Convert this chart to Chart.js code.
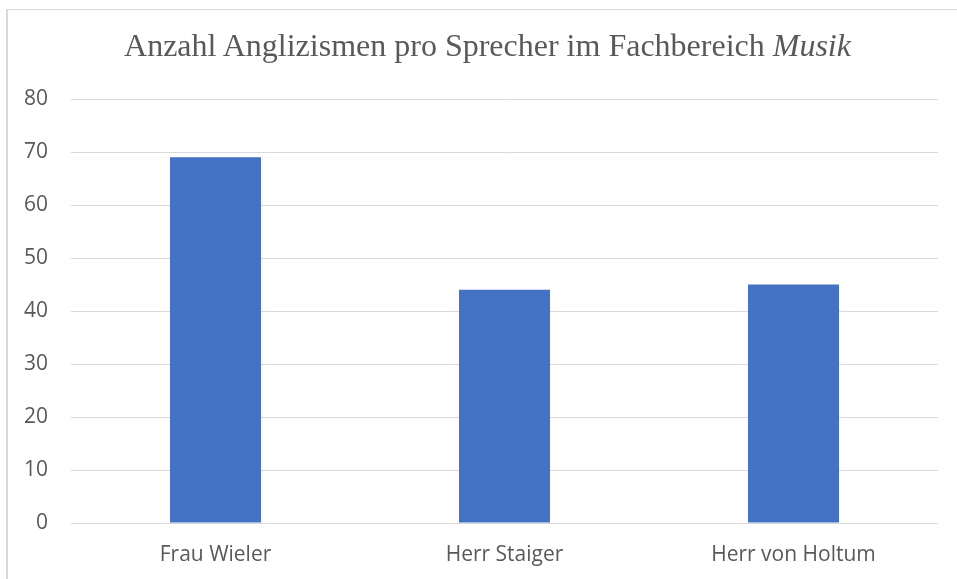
<!DOCTYPE html>
<html>
<head>
<meta charset="utf-8">
<script src="https://cdn.jsdelivr.net/npm/chart.js@4/dist/chart.umd.min.js"></script>
<style>
  html, body { margin: 0; padding: 0; background: #fff; }
  #wrap { position: relative; width: 957px; height: 579px; overflow: hidden; }
  #frame { position: absolute; left: 6px; top: 9px; width: 1000px; height: 1000px;
           border-top: 1px solid #d9d9d9; border-left: 2px solid #d9d9d9; box-sizing: border-box; }
  #title { position: absolute; left: 9px; top: 27px; width: 957px; text-align: center;
           font-family: 'Liberation Serif', 'Times New Roman', serif; font-size: 32px;
           line-height: 36px; color: #595959; white-space: nowrap; }
  canvas { position: absolute; left: 0; top: 0; }
</style>
</head>
<body>
<div id="wrap">
  <div id="frame"></div>
  <canvas id="c" width="957" height="579"></canvas>
  <div id="title">Anzahl Anglizismen pro Sprecher im Fachbereich <i>Musik</i></div>
</div>
<script>
const categories = ['Frau Wieler', 'Herr Staiger', 'Herr von Holtum'];
const values = [69, 44, 45];
const yTicks = { min: 0, max: 80, step: 10 };

new Chart(document.getElementById('c'), {
  type: 'bar',
  data: {
    labels: categories,
    datasets: [{
      data: values,
      backgroundColor: '#4472C4',
      borderWidth: 0,
      barPercentage: 0.63,
      categoryPercentage: 0.5
    }]
  },
  options: {
    responsive: false,
    animation: false,
    devicePixelRatio: 1,
    layout: { padding: { left: 0, right: 19, top: 99, bottom: 0 } },
    plugins: { legend: { display: false }, tooltip: { enabled: false }, title: { display: false } },
    scales: {
      x: {
        grid: { display: false },
        border: { display: false },
        ticks: { color: '#595959', font: { family: "'Open Sans', sans-serif", size: 21 }, padding: 11 },
        afterFit: (s) => { s.height = 56; }
      },
      y: {
        min: yTicks.min, max: yTicks.max,
        grid: { color: '#d9d9d9', lineWidth: 1, drawTicks: false },
        border: { display: false },
        ticks: { stepSize: yTicks.step, color: '#595959', font: { family: "'Open Sans', sans-serif", size: 21 }, padding: 23 },
        afterFit: (s) => { s.width = 71; }
      }
    }
  }
});
</script>
</body>
</html>
